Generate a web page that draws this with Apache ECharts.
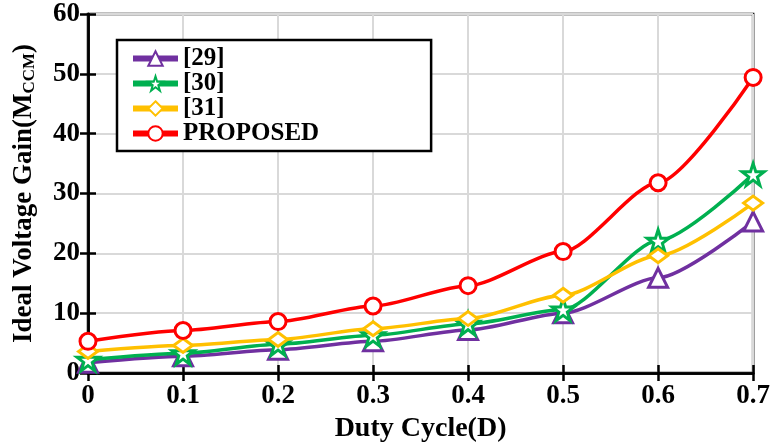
<!DOCTYPE html>
<html>
<head>
<meta charset="utf-8">
<script src="https://cdn.jsdelivr.net/npm/echarts@6/dist/echarts.min.js"></script>
<style>html,body{margin:0;padding:0;background:#fff;}#c{width:773px;height:448px;}</style>
</head>
<body>
<div id="c"></div>
<script>
var duty = [0, 0.1, 0.2, 0.3, 0.4, 0.5, 0.6, 0.7];
var xTicks = ['0', '0.1', '0.2', '0.3', '0.4', '0.5', '0.6', '0.7'];
var yTicks = [0, 10, 20, 30, 40, 50, 60];
var seriesNames = ['[29]', '[30]', '[31]', 'PROPOSED'];
var ref29 = [1.7, 2.8, 3.9, 5.3, 7.2, 10.0, 15.9, 25.3];
var ref30 = [2.2, 3.3, 4.8, 6.3, 8.2, 10.6, 22.1, 33.2];
var ref31 = [3.6, 4.6, 5.6, 7.4, 9.1, 13.0, 19.6, 28.4];
var proposed = [5.3, 7.1, 8.6, 11.2, 14.6, 20.3, 31.8, 49.4];

var colors = ['#7030A0', '#00B050', '#FFC000', '#FF0000'];
var starPath = 'path://M50,0 L61.8,35.3 L99,35.3 L69,57.3 L80.3,92.7 L50,70.7 L19.7,92.7 L31,57.3 L1,35.3 L38.2,35.3 Z';
var symbols = ['triangle', starPath, 'diamond', 'circle'];
var sizes = [19, 22, [19, 14], 16];
var values = [ref29, ref30, ref31, proposed];

function pairs(arr) { return duty.map(function (d, i) { return [d, arr[i]]; }); }

var font = 'Liberation Serif';
var series = seriesNames.map(function (n, k) {
  return {
    name: n, type: 'line', data: pairs(values[k]),
    smooth: 0.25, smoothMonotone: 'x',
    symbol: symbols[k], symbolSize: sizes[k],
    color: colors[k],
    lineStyle: { color: colors[k], width: 3.5 },
    itemStyle: { color: '#fff', borderColor: colors[k], borderWidth: 3 },
    z: 3 + k
  };
});

var chart = echarts.init(document.getElementById('c'));
chart.setOption({
  animation: false,
  backgroundColor: '#fff',
  grid: { left: 88, right: 11, top: 14, bottom: 75, show: true, borderColor: '#000', borderWidth: 2.5 },
  legend: {
    orient: 'vertical', left: 117, top: 40,
    padding: [6, 112, 5, 13],
    borderColor: '#000', borderWidth: 2.5, backgroundColor: '#fff',
    itemWidth: 45, itemHeight: 18, itemGap: 0,
    lineStyle: { width: 6 },
    textStyle: { fontFamily: font, fontWeight: 'bold', fontSize: 25, lineHeight: 24, color: '#000' },
    data: seriesNames
  },
  xAxis: [{
    type: 'value', min: 0, max: 0.7, interval: 0.1,
    name: 'Duty Cycle(D)', nameLocation: 'middle', nameGap: 41,
    nameTextStyle: { fontFamily: font, fontWeight: 'bold', fontSize: 28, color: '#000' },
    axisLine: { lineStyle: { color: '#000', width: 2.5 } },
    axisTick: { inside: true, length: 8, lineStyle: { color: '#000', width: 2.5 } },
    axisLabel: { margin: 10, fontFamily: font, fontWeight: 'bold', fontSize: 27, color: '#000',
      formatter: function (v) { return xTicks[Math.round(v * 10)]; } },
    splitLine: { show: true, lineStyle: { color: '#d9d9d9', width: 2 } }
  }, {
    type: 'value', position: 'top', min: 0, max: 0.7, interval: 0.1,
    axisLine: { show: true, lineStyle: { color: '#000', width: 2.5 } },
    axisTick: { inside: true, length: 8, lineStyle: { color: '#000', width: 2.5 } },
    axisLabel: { show: false }, splitLine: { show: false }
  }],
  yAxis: [{
    type: 'value', min: 0, max: 60, interval: 10,
    name: '{a|Ideal Voltage Gain(M}{s|CCM}{a|)}', nameLocation: 'middle', nameGap: 50, nameRotate: 90,
    nameTextStyle: { rich: {
      a: { fontFamily: font, fontWeight: 'bold', fontSize: 27, color: '#000' },
      s: { fontFamily: font, fontWeight: 'bold', fontSize: 17, color: '#000', verticalAlign: 'bottom', padding: [10, 0, 0, 0] }
    } },
    axisLine: { show: true, lineStyle: { color: '#000', width: 2.5 } },
    axisTick: { show: true, inside: true, length: 8, lineStyle: { color: '#000', width: 2.5 } },
    axisLabel: { margin: 8, fontFamily: font, fontWeight: 'bold', fontSize: 27, color: '#000',
      formatter: function (v) { return String(yTicks[Math.round(v / 10)]); } },
    splitLine: { show: true, lineStyle: { color: '#d9d9d9', width: 2 } }
  }, {
    type: 'value', position: 'right', min: 0, max: 60, interval: 10,
    axisLine: { show: true, lineStyle: { color: '#000', width: 2.5 } },
    axisTick: { show: true, inside: true, length: 8, lineStyle: { color: '#000', width: 2.5 } },
    axisLabel: { show: false }, splitLine: { show: false }
  }],
  series: series
});
</script>
</body>
</html>
